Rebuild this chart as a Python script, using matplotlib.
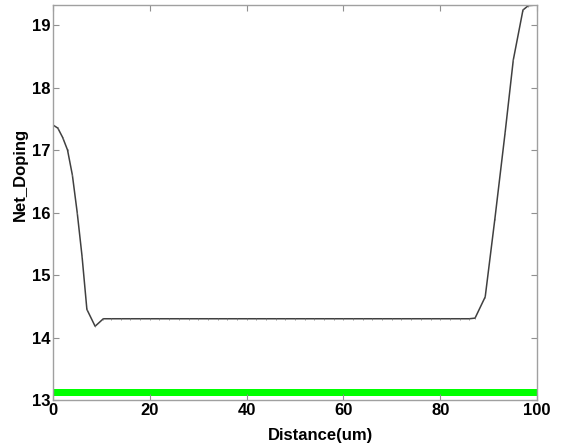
import numpy as np
import matplotlib
matplotlib.use("Agg")
import matplotlib.pyplot as plt

plt.rcParams["font.family"] = ["Liberation Sans", "DejaVu Sans"]

# Net doping profile (log10)
distance = [0.0, 0.0, 1.0, 2.0, 3.0, 4.0, 5.0, 6.0, 7.0, 8.7, 10.4,
            12, 14, 16, 18, 20, 22, 24, 26, 28, 30, 32, 34, 36, 38, 40,
            42, 44, 46, 48, 50, 52, 54, 56, 58, 60, 62, 64, 66, 68, 70,
            72, 74, 76, 78, 80, 82, 84, 86, 87.2, 89.3, 91.3, 93.4, 95.1,
            97.1, 98.2, 100.0]
net_doping = [13.0, 17.4, 17.35, 17.2, 17.0, 16.6, 16.0, 15.3, 14.45, 14.18, 14.3,
              14.3, 14.3, 14.3, 14.3, 14.3, 14.3, 14.3, 14.3, 14.3, 14.3, 14.3, 14.3, 14.3, 14.3, 14.3,
              14.3, 14.3, 14.3, 14.3, 14.3, 14.3, 14.3, 14.3, 14.3, 14.3, 14.3, 14.3, 14.3, 14.3, 14.3,
              14.3, 14.3, 14.3, 14.3, 14.3, 14.3, 14.3, 14.3, 14.31, 14.65, 15.9, 17.27, 18.44,
              19.24, 19.31, 19.32]

# green band along the bottom
band_x = [0, 100]
band_low = [13.06, 13.06]
band_high = [13.18, 13.18]

fig = plt.figure(figsize=(5.61, 4.47), dpi=100)
ax = fig.add_axes([53 / 561, 1 - 400 / 447, 484 / 561, 395 / 447])

ax.fill_between(band_x, band_low, band_high, color="#00ff00", linewidth=0)
ax.plot(distance, net_doping, color="#404040", linewidth=1.1,
        marker="|", markersize=1.8, markeredgewidth=0.5, markeredgecolor="#707070")

ax.set_xlim(0, 100)
ax.set_ylim(13, 19.32)
ax.set_xticks([0, 20, 40, 60, 80, 100])
ax.set_yticks([13, 14, 15, 16, 17, 18, 19])

for s in ax.spines.values():
    s.set_color("#a0a0a0")
    s.set_linewidth(1.0)

ax.tick_params(direction="in", top=True, right=True, length=4, width=0.8,
               color="#909090", labelsize=12, pad=2)
for lab in ax.get_xticklabels() + ax.get_yticklabels():
    lab.set_fontweight("bold")

ax.set_xlabel("Distance(um)", fontsize=12, fontweight="bold")
ax.set_ylabel("Net_Doping", fontsize=12, fontweight="bold")
ax.xaxis.set_label_coords(0.552, -0.089)
ax.yaxis.set_label_coords(-0.068, 0.572)
ax.xaxis.label.set_va("center")
ax.yaxis.label.set_va("center")

fig.savefig("out.png", dpi=100)
